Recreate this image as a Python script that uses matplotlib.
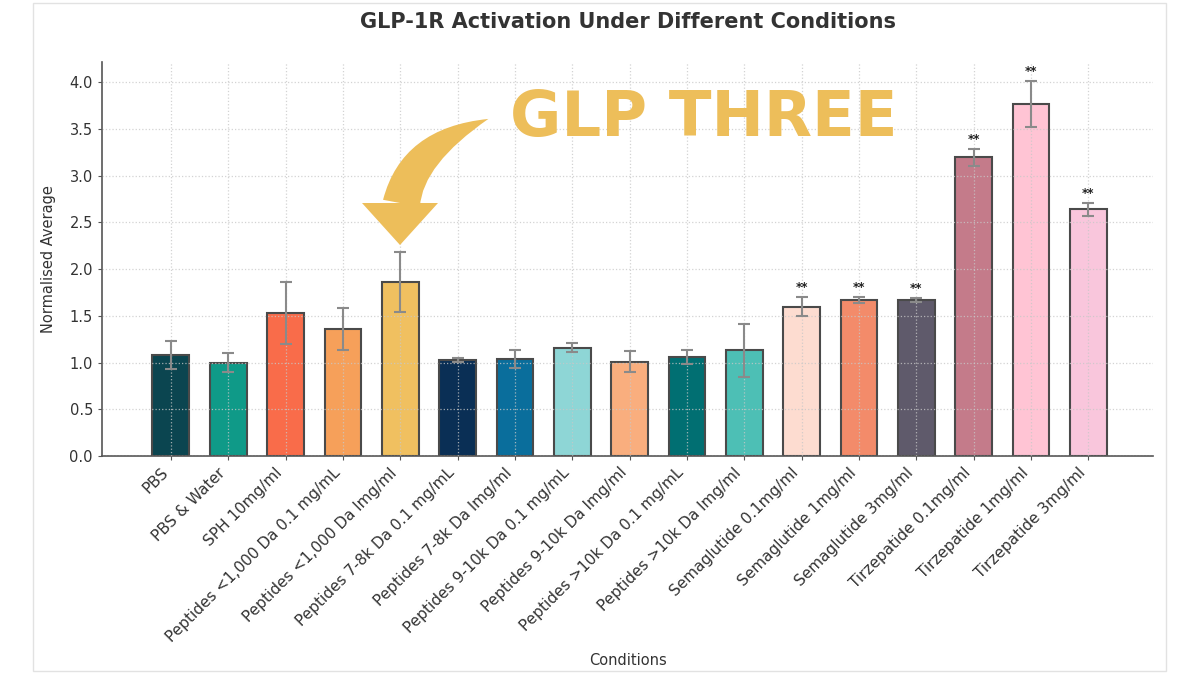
import matplotlib
matplotlib.use("Agg")
import matplotlib.pyplot as plt
from matplotlib.patches import FancyArrowPatch, Polygon, Rectangle

conditions = [
    "PBS", "PBS & Water", "SPH 10mg/ml",
    "Peptides <1,000 Da 0.1 mg/mL", "Peptides <1,000 Da lmg/ml",
    "Peptides 7-8k Da 0.1 mg/mL", "Peptides 7-8k Da lmg/ml",
    "Peptides 9-10k Da 0.1 mg/mL", "Peptides 9-10k Da lmg/ml",
    "Peptides >10k Da 0.1 mg/mL", "Peptides >10k Da lmg/ml",
    "Semaglutide 0.1mg/ml", "Semaglutide 1mg/ml", "Semaglutide 3mg/ml",
    "Tirzepatide 0.1mg/ml", "Tirzepatide 1mg/ml", "Tirzepatide 3mg/ml",
]
means = [1.08, 1.00, 1.53, 1.36, 1.86, 1.03, 1.04, 1.16, 1.01, 1.06, 1.13,
         1.60, 1.67, 1.67, 3.20, 3.77, 2.64]
errors = [0.15, 0.10, 0.33, 0.22, 0.32, 0.02, 0.10, 0.05, 0.11, 0.08, 0.28,
          0.10, 0.03, 0.02, 0.09, 0.25, 0.07]
significant = [False] * 11 + [True] * 6
bar_colors = [
    "#0B4550", "#0F9A88", "#F96C4A", "#F6A05A", "#F0C060", "#0A2F55",
    "#0A6E9C", "#8ED6D6", "#F9AE7E", "#016F72", "#4DBFB5", "#FDDCD0",
    "#F38B6A", "#5F5A6B", "#C47B8A", "#FFC4D4", "#F9C6DC",
]

fig = plt.figure(figsize=(12, 6.75), dpi=100, facecolor="#FFFFFF")
ax = fig.add_axes([0.085, 0.3244, 0.876, 0.584])

x = list(range(len(conditions)))
ax.bar(x, means, width=0.64, color=bar_colors, edgecolor="#4A4A4A",
       linewidth=1.5, zorder=2)
ax.errorbar(x, means, yerr=errors, fmt="none", ecolor="#8A8A8A",
            elinewidth=1.5, capsize=4, capthick=1.5, zorder=3)

for xi, m, e, sig in zip(x, means, errors, significant):
    if sig:
        ax.text(xi, m + e + 0.03, "**", ha="center", va="bottom",
                fontsize=8.5, fontweight="bold", color="#222222", zorder=4)

ax.set_xlim(-1.2, 17.13)
ax.set_ylim(0, 4.22)
ax.set_yticks([0, 0.5, 1.0, 1.5, 2.0, 2.5, 3.0, 3.5, 4.0])
ax.set_yticklabels([f"{v:.1f}" for v in ax.get_yticks()], fontsize=10.5,
                   color="#333333")
ax.set_xticks(x)
ax.set_xticklabels(conditions, rotation=45, ha="right", fontsize=11,
                   color="#333333")
ax.tick_params(axis="both", direction="out", length=3, color="#555555")

ax.grid(True, color="#C8C8C8", linestyle=":", linewidth=0.9, alpha=0.8,
        zorder=2.5)
ax.set_axisbelow(False)
for side in ("top", "right"):
    ax.spines[side].set_visible(False)
for side in ("left", "bottom"):
    ax.spines[side].set_color("#555555")
    ax.spines[side].set_linewidth(1.2)

ax.set_title("GLP-1R Activation Under Different Conditions", fontsize=15,
             fontweight="bold", color="#333333", pad=24)
ax.set_ylabel("Normalised Average", fontsize=10.5, color="#333333",
              labelpad=10)
ax.set_xlabel("Conditions", fontsize=10.5, color="#333333", labelpad=6)

# callout: big label, curved tapered arrow pointing at the <1,000 Da 1mg bar
gold = "#EDBE5A"
W, H = 1200.0, 675.0
fig.text(510 / W, 1 - 119 / H, "GLP THREE", fontsize=45, fontweight="black",
         color=gold, ha="left", va="center")
body = FancyArrowPatch((401 / W, 1 - 206 / H), (491 / W, 1 - 118 / H),
                       transform=fig.transFigure,
                       connectionstyle="angle3,angleA=81,angleB=19",
                       arrowstyle="wedge,tail_width=1.35,shrink_factor=0.75",
                       mutation_scale=20, color=gold, lw=0)
fig.patches.append(body)
head = Polygon([(362 / W, 1 - 203 / H), (438 / W, 1 - 203 / H),
                (400 / W, 1 - 245 / H)], closed=True,
               transform=fig.transFigure, facecolor=gold, edgecolor="none")
fig.patches.append(head)

fig.patches.append(Rectangle((0.0275, 0.006), 0.944, 0.99,
                             transform=fig.transFigure, fill=False,
                             edgecolor="#E2E2E2", linewidth=1.0))

fig.savefig("out.png", dpi=100, facecolor="#FFFFFF")
